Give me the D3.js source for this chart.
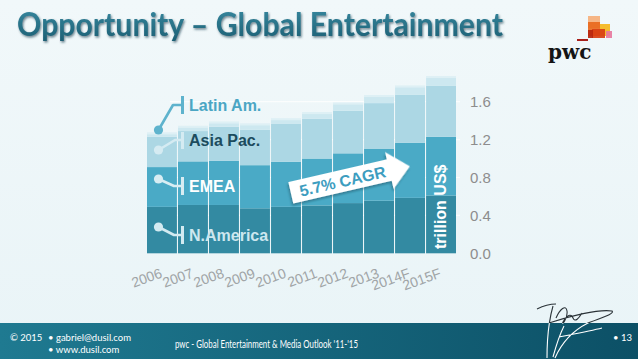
<!DOCTYPE html>
<html>
<head>
<meta charset="utf-8">
<script src="https://cdn.jsdelivr.net/npm/d3@7"></script>
<style>
  html, body { margin: 0; padding: 0; background: #eef6f8; }
  svg { display: block; }
  .ylab text { font-family: "Liberation Sans", Arial, sans-serif; font-size: 15px; fill: #8d8d8d; }
  .xlab text { font-family: "Liberation Sans", Arial, sans-serif; font-size: 14px; fill: #a0a4a6; }
  .leg { font-family: "Liberation Sans", Arial, sans-serif; font-size: 16px; font-weight: bold; }
</style>
</head>
<body>
<svg id="chart" width="638" height="359"></svg>
<script>
// values (trillion US$)
var years = ["2006", "2007", "2008", "2009", "2010", "2011", "2012", "2013", "2014F", "2015F"];
var nAmerica = [0.49, 0.51, 0.51, 0.475, 0.49, 0.505, 0.53, 0.555, 0.585, 0.61];
var emea     = [0.42, 0.46, 0.465, 0.455, 0.475, 0.495, 0.525, 0.55, 0.58, 0.62];
var asiaPac  = [0.32, 0.32, 0.36, 0.375, 0.40, 0.42, 0.45, 0.48, 0.51, 0.54];
var latinAm  = [0.045, 0.055, 0.055, 0.065, 0.06, 0.07, 0.085, 0.085, 0.095, 0.10];
var yTicks = [0, 0.4, 0.8, 1.2, 1.6];
var seriesKeys = ["N.America", "EMEA", "Asia Pac.", "Latin Am."];
var cagrLabel = "5.7% CAGR";

var svg = d3.select("#chart");
var defs = svg.append("defs");

// background
var bg = defs.append("linearGradient").attr("id", "bg").attr("x1", 0).attr("y1", 0).attr("x2", 0).attr("y2", 1);
bg.append("stop").attr("offset", 0).attr("stop-color", "#f1f8fa");
bg.append("stop").attr("offset", 1).attr("stop-color", "#e9f4f7");
svg.append("rect").attr("width", 638).attr("height", 359).attr("fill", "url(#bg)");

// title
var tg = defs.append("linearGradient").attr("id", "tgrad").attr("x1", 0).attr("y1", 0).attr("x2", 0).attr("y2", 1);
tg.append("stop").attr("offset", 0).attr("stop-color", "#3a8ca3");
tg.append("stop").attr("offset", 1).attr("stop-color", "#1b5d72");
var sh = defs.append("filter").attr("id", "tshadow").attr("x", -0.05).attr("y", -0.2).attr("width", 1.1).attr("height", 1.5);
sh.append("feDropShadow").attr("dx", 1).attr("dy", 1.5).attr("stdDeviation", 0.8).attr("flood-color", "#0c3644").attr("flood-opacity", 0.6);

svg.append("text")
	.attr("x", 17).attr("y", 36)
	.attr("textLength", 486).attr("lengthAdjust", "spacingAndGlyphs")
	.style("font-family", "Lato, sans-serif").style("font-weight", "bold").style("font-size", "32px")
	.attr("fill", "url(#tgrad)").attr("filter", "url(#tshadow)")
	.text("Opportunity \u2013 Global Entertainment");

// pwc logo
var logo = svg.append("g");
var blocks = [
	[588, 16, 12, 12, "#f6b07c"], [588, 22, 12, 14, "#e8691d"], [600, 24, 10, 12, "#f5b61c"],
	[592, 29, 13, 9, "#d83f12"], [606, 31, 6, 7, "#e77aa0"], [588, 30, 5, 8, "#b8260f"]
];
logo.selectAll("rect").data(blocks).enter().append("rect")
	.attr("x", function (d) { return d[0]; }).attr("y", function (d) { return d[1]; })
	.attr("width", function (d) { return d[2]; }).attr("height", function (d) { return d[3]; })
	.attr("fill", function (d) { return d[4]; }).attr("opacity", 0.92);
logo.append("rect").attr("x", 577).attr("y", 39).attr("width", 11).attr("height", 2).attr("fill", "#a8201a");
logo.append("text").attr("x", 548).attr("y", 59)
	.style("font-family", "'DejaVu Serif', serif").style("font-weight", "bold").style("font-size", "20px")
	.attr("fill", "#141414").text("pwc");

// scales
var x = d3.scaleBand().domain(years).range([147, 456]).paddingInner(0.035).paddingOuter(0);
var y = d3.scaleLinear().domain([0, 1.6]).range([253.3, 101.7]);
var colors = d3.scaleOrdinal().domain(seriesKeys).range(["#338aa2", "#4aaac6", "#acd7e4", "#cde8f0"]);

// faint gridlines
svg.append("g").selectAll("line").data(yTicks.slice(1)).enter().append("line")
	.attr("x1", 170).attr("x2", 460)
	.attr("y1", function (d) { return y(d); }).attr("y2", function (d) { return y(d); })
	.attr("stroke", "#ffffff").attr("stroke-width", 1.2).attr("opacity", 0.8);

// stacked bars
var rows = years.map(function (yr, i) {
	return { year: yr, "N.America": nAmerica[i], "EMEA": emea[i], "Asia Pac.": asiaPac[i], "Latin Am.": latinAm[i] };
});
var stacked = d3.stack().keys(seriesKeys)(rows);

var layers = svg.append("g").selectAll("g").data(stacked).enter().append("g")
	.attr("fill", function (d) { return colors(d.key); });
layers.selectAll("rect").data(function (d) { return d; }).enter().append("rect")
	.attr("x", function (d) { return x(d.data.year); })
	.attr("width", x.bandwidth())
	.attr("y", function (d) { return y(d[1]); })
	.attr("height", function (d) { return y(d[0]) - y(d[1]); });

// thin light edge at each bar top
svg.append("g").selectAll("rect").data(stacked[stacked.length - 1]).enter().append("rect")
	.attr("x", function (d) { return x(d.data.year); })
	.attr("width", x.bandwidth())
	.attr("y", function (d) { return y(d[1]); })
	.attr("height", 2).attr("fill", "#ffffff").attr("opacity", 0.35);

// y axis
var yAxis = svg.append("g").attr("class", "ylab").attr("transform", "translate(468,0)")
	.call(d3.axisRight(y).tickValues(yTicks).tickFormat(d3.format(".1f")).tickSize(0).tickPadding(2));
yAxis.select(".domain").remove();

// x axis, slanted labels
var xAxis = svg.append("g").attr("class", "xlab")
	.call(d3.axisBottom(x).tickSize(0));
xAxis.select(".domain").remove();
xAxis.selectAll("text")
	.attr("x", 0).attr("y", 0).attr("dy", 0)
	.attr("text-anchor", "end")
	.attr("transform", "translate(1,277) rotate(-20)");

// unit label inside the last bar
svg.append("text")
	.attr("class", "leg")
	.attr("transform", "translate(446,249) rotate(-90)")
	.attr("fill", "#ffffff")
	.text("trillion US$");

// legend with connectors
var legend = [
	{ key: "Latin Am.", text: "#4ba6c4", line: "#5eb3cd", c: [158.5, 130], k: [173, 105], y: 105, bar: [96, 114] },
	{ key: "Asia Pac.", text: "#1c4c5e", line: "#d5ebf2", c: [158.5, 150], k: [175, 140], y: 140, bar: [132, 149] },
	{ key: "EMEA", text: "#ffffff", line: "#d8edf3", c: [158.5, 179], k: [174, 186], y: 186, bar: [177, 195] },
	{ key: "N.America", text: "#cde7ef", line: "#d3eaf1", c: [158.5, 227], k: [174, 235], y: 235, bar: [226, 244] }
];
var lg = svg.append("g").selectAll("g").data(legend).enter().append("g");
lg.append("path")
	.attr("d", function (d) { return "M" + d.c + "L" + d.k + "L182.5," + d.y; })
	.attr("fill", "none").attr("stroke", function (d) { return d.line; }).attr("stroke-width", 2.6)
	.attr("stroke-linejoin", "round");
lg.append("circle")
	.attr("cx", function (d) { return d.c[0]; }).attr("cy", function (d) { return d.c[1]; }).attr("r", 4.6)
	.attr("fill", function (d) { return d.line; });
lg.append("line")
	.attr("x1", 182.5).attr("x2", 182.5)
	.attr("y1", function (d) { return d.bar[0]; }).attr("y2", function (d) { return d.bar[1]; })
	.attr("stroke", function (d) { return d.line; }).attr("stroke-width", 3);
lg.append("text").attr("class", "leg")
	.attr("x", 189).attr("y", function (d) { return d.y; }).attr("dy", "0.36em")
	.attr("fill", function (d) { return d.text; })
	.text(function (d) { return d.key; });

// CAGR arrow
var af = defs.append("filter").attr("id", "ashadow").attr("x", -0.2).attr("y", -0.3).attr("width", 1.4).attr("height", 1.8);
af.append("feDropShadow").attr("dx", -1.5).attr("dy", 2).attr("stdDeviation", 1.2).attr("flood-color", "#1b4b5a").attr("flood-opacity", 0.45);
var arrow = svg.append("g").attr("transform", "translate(290.8,192.8) rotate(-13)");
arrow.append("path")
	.attr("d", "M0,-11 L101,-11 L101,-18.5 L122,1 L101,19.5 L101,11 L0,11 Z")
	.attr("fill", "#ffffff").attr("filter", "url(#ashadow)");
arrow.append("text").attr("class", "leg")
	.attr("x", 53).attr("y", 6).attr("text-anchor", "middle")
	.attr("fill", "#3d9dbf")
	.text(cagrLabel);

// footer band
var fg = defs.append("linearGradient").attr("id", "fgrad").attr("x1", 0).attr("y1", 0).attr("x2", 1).attr("y2", 0);
fg.append("stop").attr("offset", 0).attr("stop-color", "#1f7a91");
fg.append("stop").attr("offset", 1).attr("stop-color", "#0c5066");
svg.append("rect").attr("x", 0).attr("y", 323).attr("width", 638).attr("height", 36).attr("fill", "url(#fgrad)");

var foot = svg.append("g").style("font-family", "Lato, 'Open Sans', sans-serif").attr("fill", "#ffffff");
foot.append("text").attr("x", 10).attr("y", 341).style("font-size", "9.5px").text("\u00a9 2015");
foot.append("text").attr("x", 48).attr("y", 341).style("font-size", "9.5px").text("\u2022 gabriel@dusil.com");
foot.append("text").attr("x", 48).attr("y", 353).style("font-size", "9.5px").text("\u2022 www.dusil.com");
foot.append("text").attr("x", 175).attr("y", 348).style("font-size", "11px")
	.attr("textLength", 183).attr("lengthAdjust", "spacingAndGlyphs")
	.text("pwc - Global Entertainment & Media Outlook '11-'15");
foot.append("text").attr("x", 613).attr("y", 341).style("font-size", "9.5px").text("\u2022 13");

// signature scribble, dark above the band, white inside it
var sig = "M537,309 C543,306 550,304 556,304 " +
	"M553,306 C549,320 547,340 547,358 " +
	"M556,318 C560,309 566,304 567,311 C568,319 561,326 563,322 C567,315 571,313 573,318 C575,323 579,318 582,313 " +
	"M549,323 C570,316 598,309 612,311 C615,314 600,318 588,323 C574,330 562,342 555,358 " +
	"M559,337 C574,334 590,331 602,328 " +
	"M564,326 C560,334 556,346 553,357";
defs.append("clipPath").attr("id", "sigtop").append("rect").attr("x", 520).attr("y", 290).attr("width", 100).attr("height", 33);
defs.append("clipPath").attr("id", "sigbot").append("rect").attr("x", 520).attr("y", 323).attr("width", 100).attr("height", 36);
svg.append("path").attr("d", sig).attr("clip-path", "url(#sigtop)")
	.attr("fill", "none").attr("stroke", "#2b3338").attr("stroke-width", 1.1);
svg.append("path").attr("d", sig).attr("clip-path", "url(#sigbot)")
	.attr("fill", "none").attr("stroke", "#ffffff").attr("stroke-width", 1.1);
</script>
</body>
</html>
